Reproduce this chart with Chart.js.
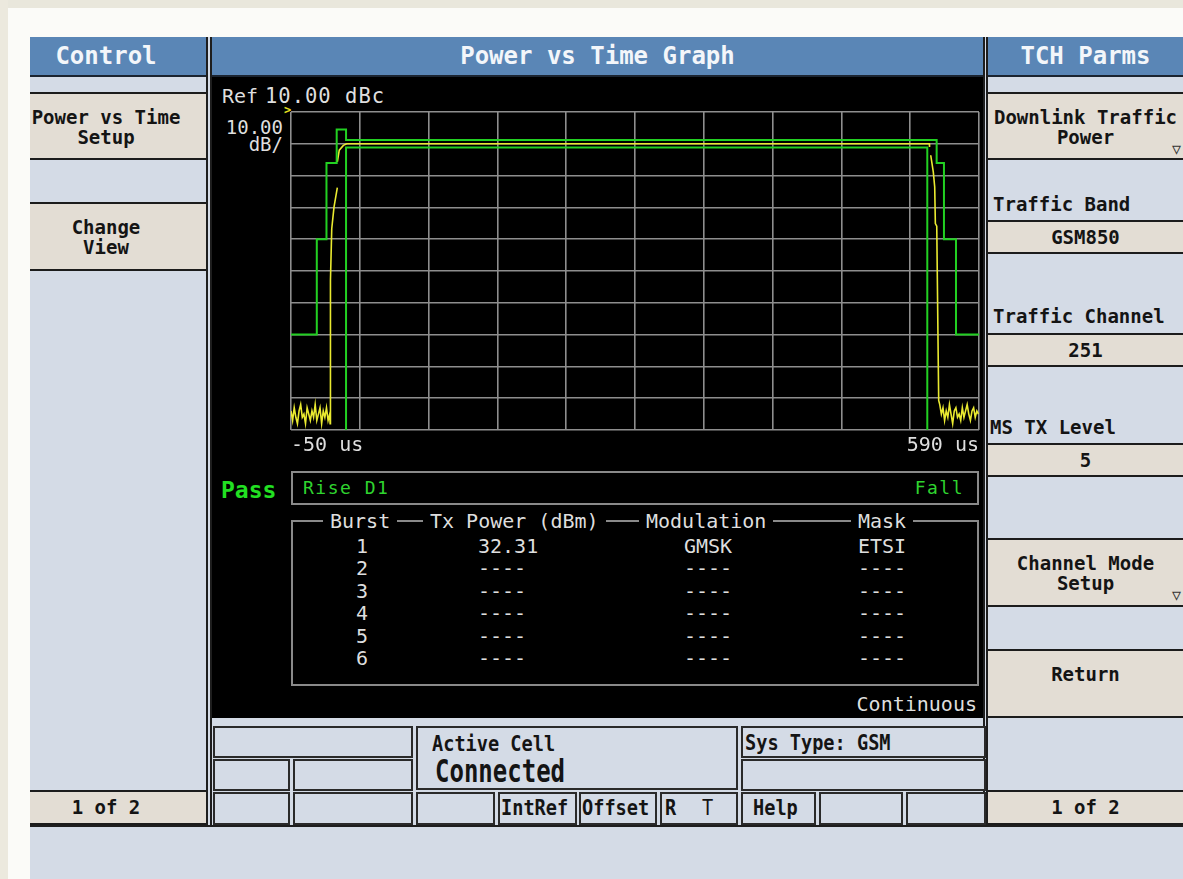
<!DOCTYPE html>
<html>
<head>
<meta charset="utf-8">
<title>Power vs Time Graph</title>
<script src="https://cdn.jsdelivr.net/npm/chart.js@4.4.1/dist/chart.umd.min.js"></script>
<style>
html,body{margin:0;padding:0}
body{width:1183px;height:879px;position:relative;overflow:hidden;background:#fbfbf8;font-family:"DejaVu Sans Mono",monospace}
div,span{box-sizing:border-box}
.a{position:absolute}
.hdr{position:absolute;top:37px;height:40px;background:#5a86b6;color:#f3f6fa;font-weight:bold;font-size:24px;line-height:39px;text-align:center;border-bottom:2px solid #1b2430;white-space:nowrap}
.btn{position:absolute;background:#e3ddd4;border-top:2px solid #1c1c1c;border-bottom:2px solid #1c1c1c;color:#141414;font-weight:bold;font-size:19px;text-align:center;line-height:20px;padding-top:13px;white-space:nowrap;overflow:hidden}
.fld{position:absolute;background:#e3ddd4;border-top:2px solid #1c1c1c;border-bottom:2px solid #1c1c1c;color:#141414;font-weight:bold;font-size:19px;text-align:center;line-height:30px;white-space:nowrap}
.lbl{position:absolute;color:#141414;font-weight:bold;font-size:19px;line-height:20px;white-space:nowrap}
.w{position:absolute;color:#dedede;font-size:20px;line-height:22px;white-space:nowrap}
.g{position:absolute;color:#2fd42f;font-size:18px;line-height:22px;white-space:nowrap;letter-spacing:1.5px}
.box{position:absolute;border:2px solid #2a2a2a;background:#d4dbe6}
.st{position:absolute;color:#141414;font-weight:bold;font-size:18.6px;line-height:20px;white-space:nowrap;transform:scaleY(1.12);transform-origin:left center}
.vl{position:absolute;width:2px;background:#1e1e1e}
.hl{position:absolute;height:2px;background:#1e1e1e}
.tb{position:absolute;color:#dedede;font-size:20px;line-height:22px;white-space:nowrap;background:#000;padding:0 7px}
</style>
</head>
<body>
<!-- page frame -->
<div class="a" style="left:0;top:0;width:1183px;height:8px;background:#e9e7dc"></div>
<div class="a" style="left:0;top:0;width:8px;height:879px;background:#ece9de"></div>
<div class="a" style="left:30px;top:37px;width:1153px;height:842px;background:#d4dbe6"></div>

<!-- left column -->
<div class="hdr" style="left:30px;width:176px;padding-right:24px">Control</div>
<div class="btn" style="left:30px;top:92px;width:176px;height:68px;padding-right:24px">Power vs Time<br>Setup</div>
<div class="btn" style="left:30px;top:202px;width:176px;height:69px;padding-right:24px">Change<br>View</div>
<div class="fld" style="left:30px;top:790px;width:176px;height:35px;padding-right:24px">1 of 2</div>

<!-- separators -->
<div class="vl" style="left:206px;top:37px;height:790px"></div>
<div class="vl" style="left:210px;top:37px;height:790px"></div>
<div class="vl" style="left:983px;top:37px;height:790px"></div>
<div class="vl" style="left:986px;top:37px;height:790px"></div>
<div class="hl" style="left:30px;top:825px;width:1153px"></div>

<!-- center column -->
<div class="hdr" style="left:212px;width:771px">Power vs Time Graph</div>
<div class="a" style="left:212px;top:77px;width:771px;height:641px;background:#000"></div>

<div class="w" style="left:222px;top:85px;font-size:20px">Ref</div>
<div class="w" style="left:265px;top:85px;font-size:20.5px;letter-spacing:1px">10.00 dBc</div>
<div class="w" style="left:200px;top:116px;width:83px;text-align:right;font-size:19px">10.00</div>
<div class="w" style="left:200px;top:133px;width:83px;text-align:right;font-size:19px">dB/</div>
<div class="a" style="left:284px;top:104px;color:#e8e020;font-size:12px;font-weight:bold;line-height:12px">&gt;</div>

<canvas id="pvt" class="a" style="left:287px;top:108px" width="696" height="352"></canvas>

<div class="a" style="left:221px;top:476px;color:#22e022;font-size:23px;font-weight:bold;line-height:28px">Pass</div>
<div class="a" style="left:291px;top:471px;width:688px;height:34px;border:2px solid #8a8a8a"></div>
<div class="g" style="left:303px;top:477px">Rise D1</div>
<div class="g" style="left:860px;top:477px;width:104px;text-align:right">Fall</div>

<div class="a" style="left:291px;top:520px;width:688px;height:166px;border:2px solid #8a8a8a"></div>
<span class="tb" style="left:323px;top:510px">Burst</span>
<span class="tb" style="left:423px;top:510px">Tx Power (dBm)</span>
<span class="tb" style="left:639px;top:510px">Modulation</span>
<span class="tb" style="left:851px;top:510px">Mask</span>
<div id="rows"></div>
<div class="w" style="left:780px;top:693px;width:197px;text-align:right">Continuous</div>

<!-- status area -->
<div class="box" style="left:213px;top:726px;width:200px;height:32px"></div>
<div class="box" style="left:416px;top:726px;width:322px;height:64px"></div>
<div class="box" style="left:741px;top:726px;width:245px;height:32px"></div>
<div class="box" style="left:213px;top:759px;width:77px;height:32px"></div>
<div class="box" style="left:293px;top:759px;width:120px;height:32px"></div>
<div class="box" style="left:741px;top:759px;width:245px;height:32px"></div>
<div class="box" style="left:213px;top:792px;width:77px;height:33px"></div>
<div class="box" style="left:293px;top:792px;width:120px;height:33px"></div>
<div class="box" style="left:416px;top:792px;width:79px;height:33px"></div>
<div class="box" style="left:498px;top:792px;width:79px;height:33px"></div>
<div class="box" style="left:579px;top:792px;width:78px;height:33px"></div>
<div class="box" style="left:660px;top:792px;width:78px;height:33px"></div>
<div class="box" style="left:741px;top:792px;width:75px;height:33px"></div>
<div class="box" style="left:819px;top:792px;width:84px;height:33px"></div>
<div class="box" style="left:906px;top:792px;width:80px;height:33px"></div>

<div class="st" style="left:432px;top:734px">Active Cell</div>
<div class="st" style="left:435px;top:759px;font-size:24px;line-height:26px;transform:scaleY(1.3)">Connected</div>
<div class="st" style="left:745px;top:733px">Sys Type: GSM</div>
<div class="st" style="left:501px;top:798px">IntRef</div>
<div class="st" style="left:582px;top:798px">Offset</div>
<div class="st" style="left:665px;top:798px">R</div>
<div class="st" style="left:702px;top:798px;font-weight:normal">T</div>
<div class="st" style="left:753px;top:798px">Help</div>

<!-- right column -->
<div class="hdr" style="left:988px;width:195px">TCH Parms</div>
<div class="btn" style="left:988px;top:92px;width:195px;height:68px">Downlink Traffic<br>Power</div>
<div class="a" style="left:1172px;top:141px;font-size:15px;color:#333;line-height:16px">&#9661;</div>
<div class="lbl" style="left:993px;top:194px">Traffic Band</div>
<div class="fld" style="left:988px;top:220px;width:195px;height:34px">GSM850</div>
<div class="lbl" style="left:993px;top:306px">Traffic Channel</div>
<div class="fld" style="left:988px;top:333px;width:195px;height:34px">251</div>
<div class="lbl" style="left:990px;top:417px">MS TX Level</div>
<div class="fld" style="left:988px;top:443px;width:195px;height:34px">5</div>
<div class="btn" style="left:988px;top:538px;width:195px;height:69px">Channel Mode<br>Setup</div>
<div class="a" style="left:1172px;top:587px;font-size:15px;color:#333;line-height:16px">&#9661;</div>
<div class="btn" style="left:988px;top:649px;width:195px;height:69px">Return</div>
<div class="fld" style="left:988px;top:790px;width:195px;height:35px">1 of 2</div>

<script>
// ---- data ----
const xGridTicks = [-50, 14, 78, 142, 206, 270, 334, 398, 462, 526, 590];
const xTickLabels = ['-50 us', '590 us'];
const refLevel = 10;       // dBc at top
const bottomLevel = -90;   // 10 dB/div, 10 divisions

const upperMaskTimes  = [-50, -26, -26, -17, -17, -7.5, -7.5, 1.2, 1.2, 550.6, 550.6, 557.4, 557.4, 568.6, 568.6, 590];
const upperMaskLevels = [-60, -60, -30, -30, -6, -6, 4.5, 4.5, 1.2, 1.2, -6, -6, -30, -30, -60, -60];

const lowerMaskTimes  = [1.2, 1.2, 541.9, 541.9];
const lowerMaskLevels = [-90, -1.2, -1.2, -90];

const traceTimes = [
  -50, -48.5, -47, -45.5, -44, -42.5, -41, -39.5, -38, -36.5, -35, -33.5, -32, -30.5, -29, -27.5, -26, -24.5, -23, -21.5, -20, -18.5, -17, -15.5, -14,
  -13.6, -13.3, -12.1, -10, -6.9, -6.9, -6.9, -5.1, -1.3, 1.8,
  543.8, 544, 544.5, 545.1, 547.5, 548.8, 549.4, 550.7, 551.6, 552.5,
  553.5, 555, 556.5, 558, 559.5, 561, 562.5, 564, 565.5, 567, 568.5, 570, 571.5, 573, 574.5, 576, 577.5, 579, 580.5, 582, 583.5, 585, 586.5, 588, 589.5
];
const traceLevels = [
  -84, -87, -83, -86, -88, -84, -82, -86, -85, -88, -83, -85, -87, -84, -86, -82, -87, -85, -83, -88, -84, -86, -83, -87, -85,
  -88, -43, -26.7, -19.9, -13.8, null, -5.7, -2, -0.5, 0,
  0, -1, null, -3.6, -8.9, -13.6, -25.1, -25.9, -53.4, -80.7,
  -82, -85, -83, -87, -84, -86, -82, -85, -88, -84, -83, -86, -85, -87, -83, -86, -84, -82, -85, -87, -84, -83, -86, -84, -85
];

const burstNumbers = ['1', '2', '3', '4', '5', '6'];
const txPower     = ['32.31', '----', '----', '----', '----', '----'];
const modulation  = ['GMSK', '----', '----', '----', '----', '----'];
const maskType    = ['ETSI', '----', '----', '----', '----', '----'];

// ---- table rows ----
const rowsEl = document.getElementById('rows');
const rowTop0 = 535, rowStep = 22.4;
burstNumbers.forEach((b, i) => {
  const top = rowTop0 + i * rowStep;
  const cells = [[350, 24, 'center', b], [478, 120, 'left', txPower[i]], [684, 120, 'left', modulation[i]], [858, 100, 'left', maskType[i]]];
  cells.forEach(([l, w, al, t]) => {
    const d = document.createElement('div');
    d.className = 'w';
    d.style.left = l + 'px'; d.style.top = top + 'px'; d.style.width = w + 'px'; d.style.textAlign = al;
    d.textContent = t;
    rowsEl.appendChild(d);
  });
});

// ---- chart ----
const pts = (ts, ls) => ts.map((t, i) => ({ x: t, y: ls[i] }));
const gridColor = '#8e8e8e';
new Chart(document.getElementById('pvt'), {
  type: 'line',
  data: {
    datasets: [
      { label: 'Upper mask', data: pts(upperMaskTimes, upperMaskLevels), borderColor: '#22d022', borderWidth: 2, pointRadius: 0, tension: 0 },
      { label: 'Lower mask', data: pts(lowerMaskTimes, lowerMaskLevels), borderColor: '#22d022', borderWidth: 2, pointRadius: 0, tension: 0 },
      { label: 'Burst power', data: pts(traceTimes, traceLevels), borderColor: '#eaea30', borderWidth: 1.6, pointRadius: 0, tension: 0, spanGaps: false }
    ]
  },
  options: {
    responsive: false,
    animation: false,
    devicePixelRatio: 1,
    layout: { padding: { left: 4, right: 4, top: 4, bottom: 0 } },
    plugins: { legend: { display: false }, tooltip: { enabled: false } },
    scales: {
      x: {
        type: 'linear', min: xGridTicks[0], max: xGridTicks[xGridTicks.length - 1],
        afterBuildTicks: (axis) => { axis.ticks = xGridTicks.map(v => ({ value: v })); },
        afterFit: (axis) => { axis.height = 30; },
        ticks: {
          autoSkip: false, maxRotation: 0, minRotation: 0, align: 'inner', padding: 4,
          color: '#dedede', font: { family: 'DejaVu Sans Mono', size: 20 },
          callback: (v, i, ticks) => i === 0 ? xTickLabels[0] : (i === ticks.length - 1 ? xTickLabels[1] : '')
        },
        grid: { color: gridColor, lineWidth: 1.6, drawTicks: false },
        border: { display: false }
      },
      y: {
        min: bottomLevel, max: refLevel,
        afterFit: (axis) => { axis.width = 0; },
        ticks: { stepSize: 10, display: false },
        grid: { color: gridColor, lineWidth: 1.6, drawTicks: false },
        border: { display: false }
      }
    }
  }
});
</script>
</body>
</html>
